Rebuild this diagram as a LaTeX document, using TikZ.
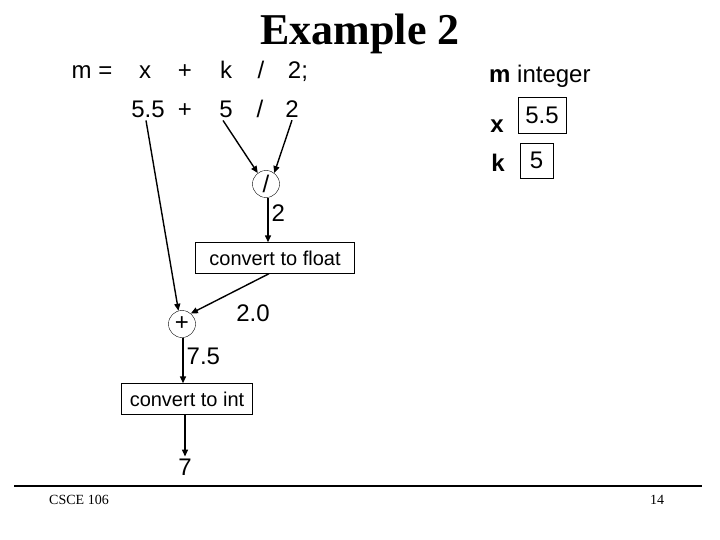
\documentclass[tikz,border=0pt]{standalone}
\usepackage{fontspec}
\setmainfont{Liberation Sans}
\newfontfamily\titlefont{Liberation Serif}
\usetikzlibrary{arrows.meta,positioning}

\begin{document}
\begin{tikzpicture}[
  x=1pt, y=-1pt,
  font=\fontsize{24}{28}\selectfont,
  tok/.style={anchor=base, inner sep=2pt},
  op/.style={draw, circle, minimum size=27pt, inner sep=0pt},
  conv/.style={draw, font=\fontsize{20}{24}\selectfont, minimum height=31pt, inner sep=0pt},
  cell/.style={draw, minimum height=36pt, inner sep=0pt},
  arr/.style={-{Triangle[length=7pt, width=6pt]}, line width=1.4pt},
  lab/.style={inner sep=3pt}
]
\useasboundingbox (0,0) rectangle (720,540);

% ---------------- title ----------------
\node[anchor=base, font=\titlefont\bfseries\fontsize{44}{48}\selectfont] (title) at (360,45) {Example 2};

% ---------------- the statement, then its values ----------------
\node[tok] (m)    at (92,79)  {m =};
\node[tok] (x)    at (145,79) {x};
\node[tok] (add)  at (185,79) {+};
\node[tok] (k)    at (226,79) {k};
\node[tok] (sl)   at (261,79) {/};
\node[tok] (two)  at (298,79) {2;};

\node[tok] (v55)  at (148,118) {5.5};
\node[tok] (vadd) at (185,118) {+};
\node[tok] (v5)   at (226,118) {5};
\node[tok] (vsl)  at (260,118) {/};
\node[tok] (v2)   at (292,118) {2};

% ---------------- evaluation ----------------
\node[op] (div) at (266,184) {/};
\node[conv, minimum width=159pt] (tofloat) at (275,258) {convert to float};
\node[op] (plus) at (182,324) {+};
\node[conv, minimum width=131pt] (toint) at (187,399) {convert to int};
\node[tok, anchor=center] (res) at (185,467) {7};
\node[lab] (flt) at (253,313) {2.0};

\draw[arr] ([xshift=-2pt]v55.south) -- (plus.105);
\draw[arr] ([xshift=-3pt]v5.south) -- (div.127);
\draw[arr] (v2.south) -- (div.53);
\draw[arr] ([xshift=2pt]div.south) -- node[lab, right, pos=0.35] {2} ([xshift=2pt]div.south |- tofloat.north);
\draw[arr] ([xshift=-6pt]tofloat.south) -- (plus.50);
\draw[arr] ([xshift=1pt]plus.south) -- node[lab, right, pos=0.4] {7.5} ([xshift=1pt]plus.south |- toint.north);
\draw[arr] (res |- toint.south) -- (res.north);

% ---------------- right: the variables ----------------
\node[anchor=base west, inner sep=0pt] (decl) at (489,83) {\textbf{m} integer};
\node[cell, minimum width=48pt] (xval) at (542,115) {5.5};
\node[tok] (xname) at (497,133) {\textbf{x}};
\node[cell, minimum width=33pt, minimum height=35pt] (kval) at (536.5,160.5) {5};
\node[tok] (kname) at (498,172) {\textbf{k}};

% ---------------- footer ----------------
\coordinate (rulea) at (14,486);
\coordinate (ruleb) at (702,486);
\draw[line width=2pt] (rulea) -- (ruleb);
\node[font=\titlefont\fontsize{14}{16}\selectfont] (course) at (79,500) {CSCE 106};
\node[font=\titlefont\fontsize{14}{16}\selectfont] (page) at (657,500) {14};

\end{tikzpicture}
\end{document}
